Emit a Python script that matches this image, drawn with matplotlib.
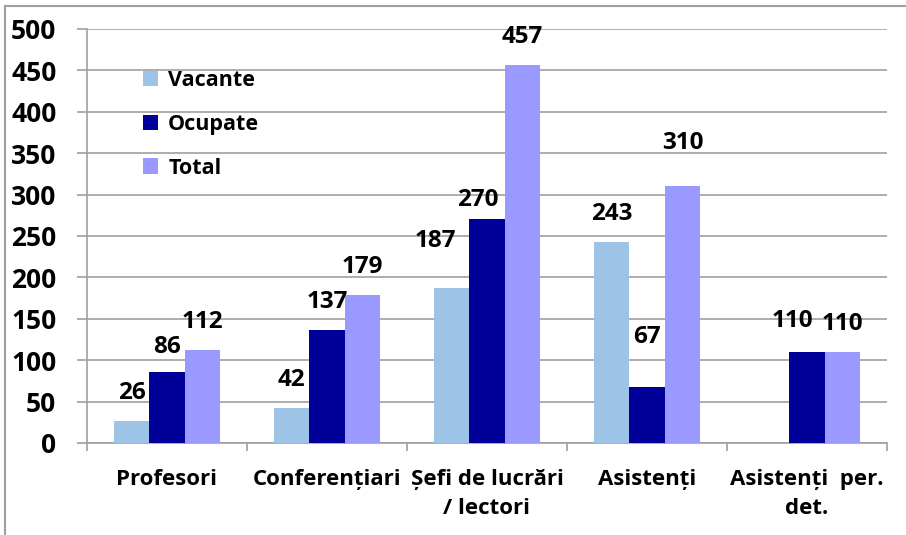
import matplotlib.pyplot as plt
from matplotlib.lines import Line2D
import numpy as np

plt.rcParams['font.family'] = ['Open Sans', 'DejaVu Sans']
plt.rcParams['font.weight'] = 'bold'

# data
categories = ['Profesori', 'Conferențiari', 'Șefi de lucrări\n/ lectori', 'Asistenți', 'Asistenți  per.\ndet.']
vacante = [26, 42, 187, 243, 0]
ocupate = [86, 137, 270, 67, 110]
total = [112, 179, 457, 310, 110]
series_names = ['Vacante', 'Ocupate', 'Total']
colors = ['#9DC3E6', '#000099', '#9999FF']

fig = plt.figure(figsize=(9.06, 5.35), dpi=100)
ax = fig.add_axes([0.096, 0.172, 0.883, 0.774])

x = np.arange(len(categories))
w = 0.222
all_series = [vacante, ocupate, total]

# per-label nudges in pixels (dx, dy above bar top), default (0, 28)
nudges = {(0, 2): (-16, 47), (1, 2): (-9, 19), (2, 3): (0, 43),
          (1, 3): (0, 50), (1, 4): (-15, 31), (1, 0): (0, 25)}

for s, (vals, col) in enumerate(zip(all_series, colors)):
    pos = x + (s - 1) * w
    ax.bar(pos, vals, width=w, color=col, label=series_names[s], zorder=3)
    for c, v in enumerate(vals):
        if v == 0:
            continue
        dx, dy = nudges.get((s, c), (0, 28))
        ax.annotate(str(v), (pos[c], v), xytext=(dx, dy), textcoords='offset pixels',
                    ha='center', va='center', fontsize=17.5, fontweight='bold', zorder=4)

ax.set_ylim(0, 500)
ax.set_xlim(-0.5, len(categories) - 0.5)
ax.set_yticks(range(0, 501, 50))
ax.yaxis.grid(True, color='#a0a0a0', linewidth=1.2, zorder=0)
ax.set_axisbelow(True)

ax.set_xticks(x)
ax.set_xticklabels(categories, fontsize=16, fontweight='bold', linespacing=1.45)
ax.set_xticks(np.arange(-0.5, len(categories), 1), minor=True)
ax.tick_params(axis='x', which='major', length=0, pad=19)
ax.tick_params(axis='x', which='minor', length=6, color='#a0a0a0', width=1.2)
ax.tick_params(axis='y', length=7, color='#a0a0a0', width=1.2, pad=15, labelsize=19)
for lab in ax.get_yticklabels():
    lab.set_fontweight('bold')

for sp in ['top', 'right']:
    ax.spines[sp].set_visible(False)
for sp in ['left', 'bottom']:
    ax.spines[sp].set_color('#a0a0a0')
    ax.spines[sp].set_linewidth(1.2)

ax.legend(loc='upper left', bbox_to_anchor=(0.07, 0.9), frameon=False,
          handlelength=0.72, handleheight=0.72, handletextpad=0.45,
          labelspacing=1.05, borderpad=0, borderaxespad=0,
          prop={'weight': 'bold', 'size': 15.5})

# outer border (left and top edges visible)
fig.add_artist(Line2D([5 / 906, 5 / 906], [0, 1 - 6 / 535], color='#a0a0a0', lw=1.5))
fig.add_artist(Line2D([5 / 906, 1], [1 - 6 / 535, 1 - 6 / 535], color='#a0a0a0', lw=1.5))

fig.savefig('out.png', dpi=100, facecolor='white')
